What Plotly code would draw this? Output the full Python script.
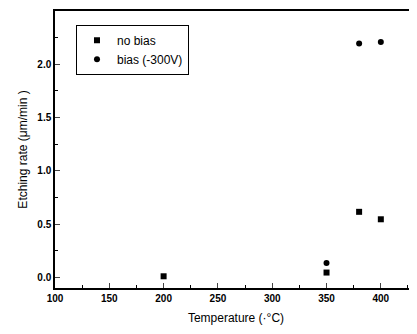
import plotly.graph_objects as go

temp_nobias = [200, 350, 380, 400]
rate_nobias = [0.01, 0.045, 0.615, 0.545]
temp_bias = [350, 380, 400]
rate_bias = [0.135, 2.195, 2.21]

FONT = "Liberation Sans, Arial, sans-serif"

fig = go.Figure()
fig.add_trace(go.Scatter(x=temp_nobias, y=rate_nobias, mode="markers", name="no bias",
                         marker=dict(symbol="square", size=6, color="black")))
fig.add_trace(go.Scatter(x=temp_bias, y=rate_bias, mode="markers", name="bias (-300V)",
                         marker=dict(symbol="circle", size=6, color="black")))

# page body has an 8px default margin, so the figure is sized 409x326
fig.update_layout(
    width=409, height=326,
    margin=dict(l=47, r=0, t=3, b=46),
    paper_bgcolor="white", plot_bgcolor="white",
    font=dict(family=FONT, color="black"),
    showlegend=True,
    legend=dict(x=0.058, y=0.95, xanchor="left", yanchor="top",
                bordercolor="black", borderwidth=1, bgcolor="white",
                font=dict(size=12), itemwidth=30, tracegroupgap=0),
    xaxis=dict(range=[100, 433.3], dtick=50, tick0=100, ticks="inside", ticklen=5,
               showline=True, linecolor="black", linewidth=1.5, mirror=True,
               showgrid=False, zeroline=False, automargin=False,
               tickfont=dict(size=10, family=FONT, weight="bold"),
               title=dict(text="Temperature (·°C)", font=dict(size=12), standoff=11),
               minor=dict(dtick=25, ticks="inside", ticklen=3, tickcolor="black")),
    yaxis=dict(range=[-0.1, 2.5], dtick=0.5, tick0=0, ticks="inside", ticklen=5,
               tickformat=".1f",
               showline=True, linecolor="black", linewidth=1.5, mirror=False,
               showgrid=False, zeroline=False, automargin=False,
               tickfont=dict(size=10, family=FONT, weight="bold"),
               title=dict(text="Etching rate (μm/min )", font=dict(size=12), standoff=7),
               minor=dict(dtick=0.25, ticks="inside", ticklen=3, tickcolor="black")),
)

fig.write_html("out.html")
